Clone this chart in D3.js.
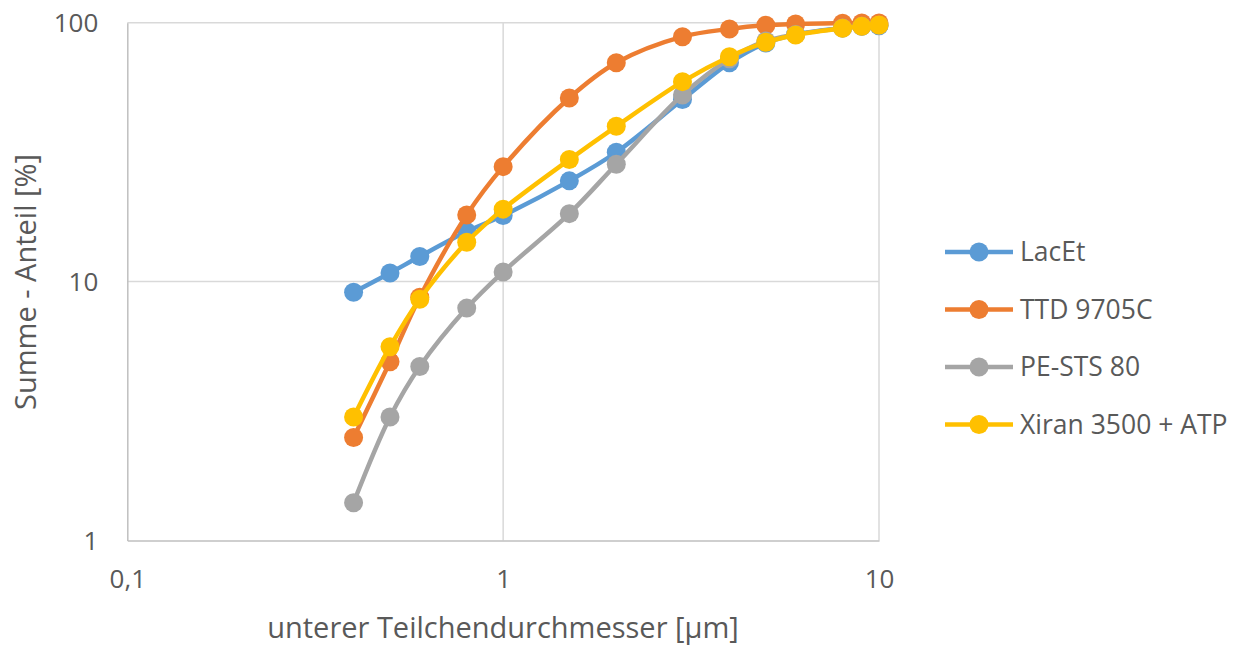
<!DOCTYPE html>
<html>
<head>
<meta charset="utf-8">
<script src="https://cdn.jsdelivr.net/npm/d3@7/dist/d3.min.js"></script>
<style>
  html, body { margin: 0; padding: 0; background: #fff; }
  svg { display: block; }
  text { font-family: "Open Sans", "Noto Sans", sans-serif; fill: #595959; }
</style>
</head>
<body>
<svg id="chart" width="1236" height="646"></svg>
<script>
// Lower particle diameter [µm]
const diameters = [0.4, 0.5, 0.6, 0.8, 1, 1.5, 2, 3, 4, 5, 6, 8, 9, 10];

// Cumulative share [%] per sample
const lacEt   = [9.1, 10.8, 12.5, 15.6, 18.0, 24.5, 31.6, 50.5, 70.0, 83.5, 90.0, 95.5, 96.8, 97.3];
const ttd     = [2.5, 4.9, 8.7, 18.1, 27.8, 51.2, 70.0, 88.3, 94.6, 97.8, 98.8, 99.5, 99.7, 99.8];
const peSts   = [1.4, 3.0, 4.7, 7.9, 10.9, 18.3, 28.4, 52.6, 72.5, 85.0, 90.0, 95.3, 96.8, 97.8];
const xiran   = [3.0, 5.6, 8.55, 14.2, 19.05, 29.6, 39.8, 59.2, 73.9, 84.0, 89.7, 95.2, 96.8, 98.0];

const seriesNames  = ["LacEt", "TTD 9705C", "PE-STS 80", "Xiran 3500 + ATP"];
const seriesValues = [lacEt, ttd, peSts, xiran];
const seriesColors = ["#5B9BD5", "#ED7D31", "#A5A5A5", "#FFC000"];

const xTicks = [0.1, 1, 10];
const xTickLabels = ["0,1", "1", "10"];
const yTicks = [1, 10, 100];
const yTickLabels = ["1", "10", "100"];

const xTitle = "unterer Teilchendurchmesser [µm]";
const yTitle = "Summe - Anteil [%]";

const svg = d3.select("#chart");
const plot = { left: 127.3, right: 879, top: 22.7, bottom: 540.5 };

const x = d3.scaleLog().domain([0.1, 10]).range([plot.left, plot.right]);
const y = d3.scaleLog().domain([1, 100]).range([plot.bottom, plot.top]);

// Gridlines
const grid = svg.append("g");
grid.selectAll("line.gx").data(xTicks.slice(1)).join("line")
  .attr("x1", d => x(d)).attr("x2", d => x(d))
  .attr("y1", plot.top).attr("y2", plot.bottom)
  .attr("stroke", "#D9D9D9").attr("stroke-width", 1.5);
grid.selectAll("line.gy").data(yTicks.slice(1)).join("line")
  .attr("x1", plot.left).attr("x2", plot.right)
  .attr("y1", d => y(d)).attr("y2", d => y(d))
  .attr("stroke", "#D9D9D9").attr("stroke-width", 1.5);

// Axes
const xAxis = d3.axisBottom(x).tickValues(xTicks)
  .tickFormat((d, i) => xTickLabels[i]).tickSize(0).tickPadding(38);
const yAxis = d3.axisLeft(y).tickValues(yTicks)
  .tickFormat((d, i) => yTickLabels[i]).tickSize(0).tickPadding(29);

const gx = svg.append("g").attr("transform", `translate(0,${plot.bottom})`).call(xAxis);
const gy = svg.append("g").attr("transform", `translate(${plot.left},0)`).call(yAxis);
[gx, gy].forEach(g => {
  g.select(".domain").attr("stroke", "#BFBFBF").attr("stroke-width", 1.5);
  g.selectAll("text").style("font-size", "26px").style("font-family", "'Open Sans', sans-serif").attr("fill", "#595959");
});
gy.selectAll("text").attr("dy", "0.35em");
gx.selectAll("text").attr("dy", "0.35em");

// Axis titles
svg.append("text")
  .attr("x", 503).attr("y", 630)
  .attr("text-anchor", "middle").attr("dominant-baseline", "middle")
  .style("font-size", "29px")
  .text(xTitle);
svg.append("text")
  .attr("transform", `translate(28,${282}) rotate(-90)`)
  .attr("text-anchor", "middle").attr("dominant-baseline", "middle")
  .style("font-size", "29px")
  .text(yTitle);

// Series lines and markers
const line = d3.line()
  .x((d, i) => x(diameters[i]))
  .y(d => y(d))
  .curve(d3.curveCatmullRom.alpha(0.5));

const series = svg.append("g").selectAll("g").data(seriesValues).join("g");
series.append("path")
  .attr("d", d => line(d))
  .attr("fill", "none")
  .attr("stroke", (d, i) => seriesColors[i])
  .attr("stroke-width", 4.5)
  .attr("stroke-linejoin", "round");
series.each(function(vals, si) {
  d3.select(this).selectAll("circle").data(vals).join("circle")
    .attr("cx", (d, i) => x(diameters[i]))
    .attr("cy", d => y(d))
    .attr("r", 9.5)
    .attr("fill", seriesColors[si]);
});

// Legend
const legend = svg.append("g");
const legendRows = legend.selectAll("g").data(seriesNames).join("g")
  .attr("transform", (d, i) => `translate(0,${252 + i * 57.5})`);
legendRows.append("line")
  .attr("x1", 945).attr("x2", 1013).attr("y1", 0).attr("y2", 0)
  .attr("stroke", (d, i) => seriesColors[i]).attr("stroke-width", 4.5);
legendRows.append("circle")
  .attr("cx", 979).attr("cy", 0).attr("r", 9.5)
  .attr("fill", (d, i) => seriesColors[i]);
legendRows.append("text")
  .attr("x", 1020).attr("y", 0).attr("dy", "0.35em")
  .style("font-size", "26.5px")
  .text(d => d);
</script>
</body>
</html>
